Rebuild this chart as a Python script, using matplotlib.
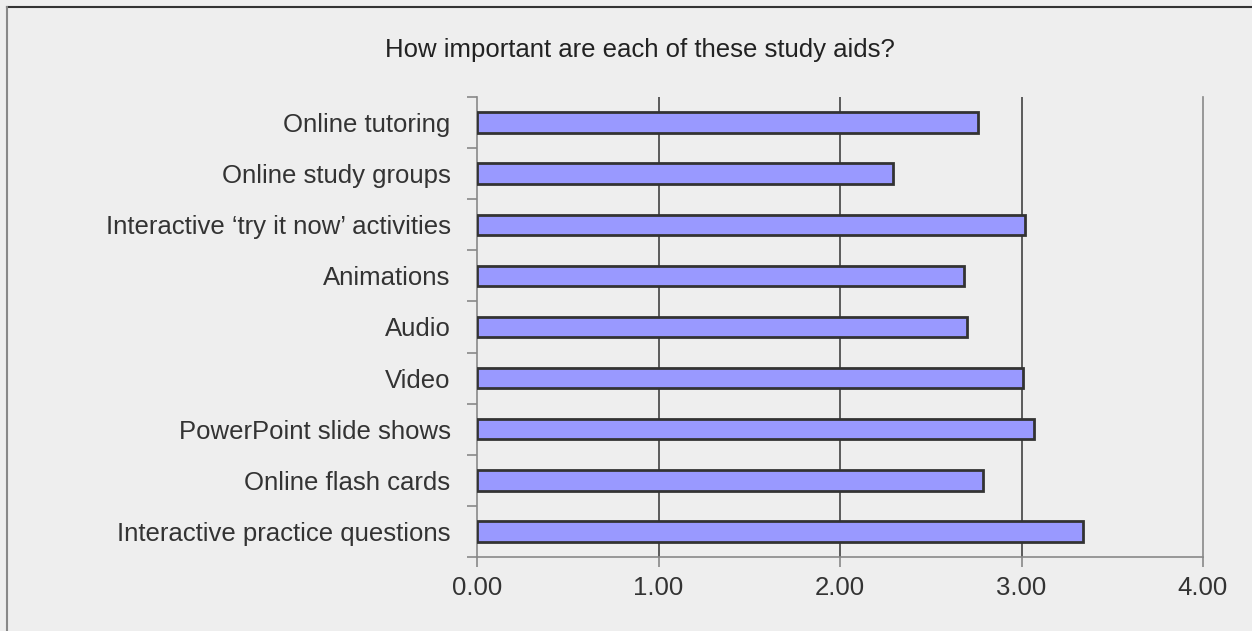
import numpy as np
import matplotlib.pyplot as plt
from matplotlib.lines import Line2D

categories = ['Interactive practice questions', 'Online flash cards', 'PowerPoint slide shows',
              'Video', 'Audio', 'Animations', "Interactive \u2018try it now\u2019 activities",
              'Online study groups', 'Online tutoring']
values = [3.34, 2.79, 3.07, 3.01, 2.70, 2.685, 3.02, 2.29, 2.763]
xticks = [0, 1, 2, 3, 4]
xticklabels = ['0.00', '1.00', '2.00', '3.00', '4.00']

plt.rcParams['font.family'] = ['Liberation Sans', 'DejaVu Sans']

fig = plt.figure(figsize=(12.52, 6.31), dpi=100, facecolor='#eeeeee')
ax = fig.add_axes([477 / 1252, 1 - 557 / 631, 726 / 1252, 460 / 631])
ax.set_facecolor('#eeeeee')

y = np.arange(len(categories))
ax.barh(y, values, height=0.4, color='#9999ff', edgecolor='#333333', linewidth=2, zorder=3)

ax.set_xlim(0, 4)
ax.set_ylim(-0.5, len(categories) - 0.5)
for v in xticks[1:-1]:
    ax.axvline(v, color='#333333', linewidth=1.1, zorder=1)

ax.set_xticks(xticks)
ax.set_xticklabels(xticklabels, fontsize=18.5, color='#333333')
ax.set_yticks(y)
ax.set_yticklabels(categories, fontsize=18.5, color='#333333')
ax.set_yticks(np.arange(len(categories) + 1) - 0.5, minor=True)
ax.tick_params(axis='y', which='major', length=0, pad=19)
ax.tick_params(axis='y', which='minor', length=7, color='#888888', width=1.2)
ax.tick_params(axis='x', length=7, color='#888888', width=1.2, pad=7)

for s in ['left', 'bottom', 'right']:
    ax.spines[s].set_color('#888888')
    ax.spines[s].set_linewidth(1.2)
ax.spines['top'].set_visible(False)

fig.text(640 / 1252, 1 - 50 / 631, 'How important are each of these study aids?', ha='center', va='center',
         fontsize=18.5, color='#222222')

# chart frame (top and left edges visible)
fig.add_artist(Line2D([7 / 1252, 1], [1 - 7 / 631, 1 - 7 / 631], color='#333333', linewidth=1.5,
                      transform=fig.transFigure))
fig.add_artist(Line2D([7 / 1252, 7 / 1252], [0, 1 - 7 / 631], color='#888888', linewidth=1.5,
                      transform=fig.transFigure))

fig.savefig('out.png', dpi=100, facecolor=fig.get_facecolor())
